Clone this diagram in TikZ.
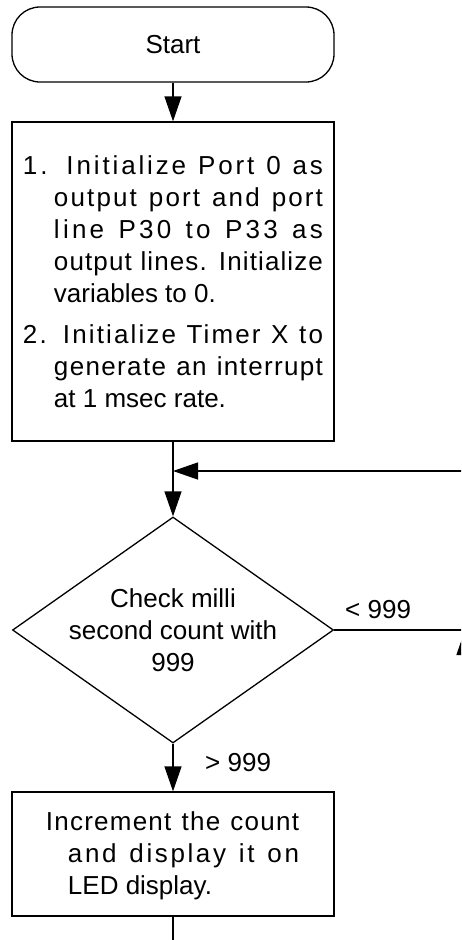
\documentclass[tikz,border=0pt]{standalone}
\usepackage{fontspec}
\setmainfont{Liberation Sans}
\usetikzlibrary{shapes.geometric,arrows.meta}

\newcommand\spreadline[3]{\makebox[#1][s]{\addfontfeature{LetterSpace=#2}#3}}

\begin{document}
\begin{tikzpicture}
[x=1pt,y=-1pt,
  lineDecorate/.style={->,>={Triangle[length=25pt,width=17pt]},line width=1.3pt},
  plainDecorate/.style={line width=1.3pt},
  textDecorate/.style={font=\fontsize{26}{32}\selectfont,inner sep=0pt},
  termDecorate/.style={textDecorate,shape=rectangle,rounded corners=28pt,draw,line width=1.3pt,
    minimum width=322pt,minimum height=75pt},
  boxDecorate/.style={textDecorate,shape=rectangle,draw,line width=1.3pt,minimum width=322pt},
  decisionDecorate/.style={textDecorate,shape=diamond,aspect=1.42,draw,line width=1.3pt,
    minimum width=321pt,minimum height=226pt}]
\useasboundingbox (0,0) rectangle (461,940);
\clip (0,0) rectangle (461,940);
%% nodes
\node (start) at (173,44.5) [termDecorate] {Start};
\node (init) at (173,281.5) [boxDecorate,minimum height=319pt]
  {\smash{\raisebox{107.5pt}{\parbox[t]{300pt}{%
    \spreadline{300pt}{11}{1. Initialize Port 0 as}\\
    \hspace*{31pt}\spreadline{269pt}{8.2}{output port and port}\\
    \hspace*{31pt}\spreadline{269pt}{12.5}{line P30 to P33 as}\\
    \hspace*{31pt}\spreadline{269pt}{4.3}{output lines. Initialize}\\
    \hspace*{31pt}variables to 0.\\[9pt]
    \spreadline{300pt}{8.2}{2. Initialize Timer X to}\\
    \hspace*{31pt}\spreadline{269pt}{5.2}{generate an interrupt}\\
    \hspace*{31pt}at 1 msec rate.}}}};
\node (check) at (173,630) [decisionDecorate]
  {\smash{\raisebox{23pt}{\parbox[t]{220pt}{\centering
    Check milli\\second count with\\999}}}};
\node (count) at (173,854) [boxDecorate,minimum height=124pt]
  {\smash{\raisebox{24pt}{\parbox[t]{300pt}{%
    \hspace*{23pt}\spreadline{253pt}{4.7}{Increment the count}\\
    \hspace*{45pt}\spreadline{231pt}{10}{and display it on}\\
    \hspace*{45pt}LED display.}}}};
\node (lessLbl) at (345,618) [textDecorate,anchor=base west] {< 999};
\node (moreLbl) at (205,771) [textDecorate,anchor=base west] {> 999};
%% free ends
\coordinate (join) at (173,471);
\coordinate (loopIn) at (470,471);
\coordinate (noOut) at (470,630);
\coordinate (sideIn) at (465,720);
\coordinate (sideTip) at (465,630);
\coordinate (exit) at (173,950);
%% edges or lines
\path
\foreach \startnode/\endnode in {start/init, init/check, loopIn/join, check/count, sideIn/sideTip}
{
  (\startnode) edge[lineDecorate] (\endnode)
};
\draw[plainDecorate] (check.east) -- (noOut);
\draw[plainDecorate] (count) -- (exit);
\end{tikzpicture}
\end{document}
